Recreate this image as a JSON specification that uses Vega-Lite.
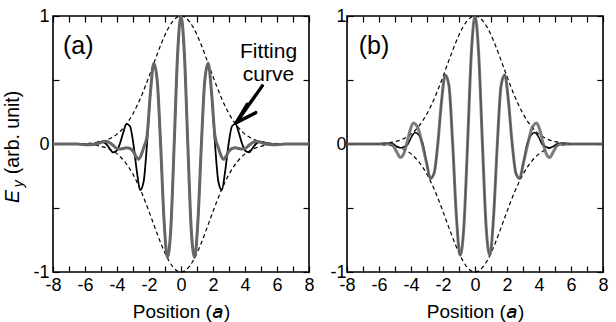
{
  "$schema": "https://vega.github.io/schema/vega-lite/v6.json",
  "padding": {"left": 2, "top": 6, "right": 5, "bottom": 0},
  "spacing": 13,
  "config": {
    "font": "Liberation Sans",
    "view": {"stroke": "#000", "strokeWidth": 1.6},
    "axis": {
      "domain": false, "grid": false, "ticks": true, "tickColor": "#000", "tickSize": -6, "tickWidth": 1.2,
      "labelFont": "Liberation Sans", "labelFontSize": 18, "labelColor": "#000", "labelPadding": 10, "labelFlush": false,
      "titleFont": "Liberation Sans", "titleFontSize": 19, "titleFontWeight": "normal", "titleColor": "#000"
    }
  },
  "datasets": {
    "env": [
      {"x": -8, "up": 0, "lo": 0}, {"x": -7.5, "up": 0.0001, "lo": -0.0001}, {"x": -7, "up": 0.0004, "lo": -0.0004},
      {"x": -6.5, "up": 0.0012, "lo": -0.0012}, {"x": -6, "up": 0.0032, "lo": -0.0032}, {"x": -5.5, "up": 0.0079, "lo": -0.0079},
      {"x": -5, "up": 0.0183, "lo": -0.0183}, {"x": -4.5, "up": 0.0392, "lo": -0.0392}, {"x": -4, "up": 0.0773, "lo": -0.0773},
      {"x": -3.75, "up": 0.1054, "lo": -0.1054}, {"x": -3.5, "up": 0.1409, "lo": -0.1409}, {"x": -3.25, "up": 0.1845, "lo": -0.1845},
      {"x": -3, "up": 0.2369, "lo": -0.2369}, {"x": -2.75, "up": 0.2982, "lo": -0.2982}, {"x": -2.5, "up": 0.3679, "lo": -0.3679},
      {"x": -2.25, "up": 0.4449, "lo": -0.4449}, {"x": -2, "up": 0.5273, "lo": -0.5273}, {"x": -1.75, "up": 0.6126, "lo": -0.6126},
      {"x": -1.5, "up": 0.6977, "lo": -0.6977}, {"x": -1.25, "up": 0.7788, "lo": -0.7788}, {"x": -1, "up": 0.8521, "lo": -0.8521},
      {"x": -0.75, "up": 0.9139, "lo": -0.9139}, {"x": -0.5, "up": 0.9608, "lo": -0.9608}, {"x": -0.25, "up": 0.99, "lo": -0.99},
      {"x": 0, "up": 1, "lo": -1},
      {"x": 0.25, "up": 0.99, "lo": -0.99}, {"x": 0.5, "up": 0.9608, "lo": -0.9608}, {"x": 0.75, "up": 0.9139, "lo": -0.9139},
      {"x": 1, "up": 0.8521, "lo": -0.8521}, {"x": 1.25, "up": 0.7788, "lo": -0.7788}, {"x": 1.5, "up": 0.6977, "lo": -0.6977},
      {"x": 1.75, "up": 0.6126, "lo": -0.6126}, {"x": 2, "up": 0.5273, "lo": -0.5273}, {"x": 2.25, "up": 0.4449, "lo": -0.4449},
      {"x": 2.5, "up": 0.3679, "lo": -0.3679}, {"x": 2.75, "up": 0.2982, "lo": -0.2982}, {"x": 3, "up": 0.2369, "lo": -0.2369},
      {"x": 3.25, "up": 0.1845, "lo": -0.1845}, {"x": 3.5, "up": 0.1409, "lo": -0.1409}, {"x": 3.75, "up": 0.1054, "lo": -0.1054},
      {"x": 4, "up": 0.0773, "lo": -0.0773}, {"x": 4.5, "up": 0.0392, "lo": -0.0392}, {"x": 5, "up": 0.0183, "lo": -0.0183},
      {"x": 5.5, "up": 0.0079, "lo": -0.0079}, {"x": 6, "up": 0.0032, "lo": -0.0032}, {"x": 6.5, "up": 0.0012, "lo": -0.0012},
      {"x": 7, "up": 0.0004, "lo": -0.0004}, {"x": 7.5, "up": 0.0001, "lo": -0.0001}, {"x": 8, "up": 0, "lo": 0}
    ],
    "a_fit": [
      {"x": -8, "y": 0}, {"x": -7, "y": 0}, {"x": -6.5, "y": 0}, {"x": -5.95, "y": -0.004}, {"x": -5.7375, "y": -0.004},
      {"x": -5.525, "y": 0}, {"x": -5.3125, "y": 0.008}, {"x": -5.1, "y": 0.016}, {"x": -4.8875, "y": 0.015}, {"x": -4.675, "y": 0},
      {"x": -4.4625, "y": -0.035}, {"x": -4.25, "y": -0.065}, {"x": -4.0375, "y": -0.055}, {"x": -3.825, "y": 0},
      {"x": -3.6125, "y": 0.088}, {"x": -3.4, "y": 0.157}, {"x": -3.1875, "y": 0.139}, {"x": -2.975, "y": 0},
      {"x": -2.7625, "y": -0.21}, {"x": -2.55, "y": -0.36}, {"x": -2.3375, "y": -0.295}, {"x": -2.125, "y": 0},
      {"x": -1.9125, "y": 0.394}, {"x": -1.7, "y": 0.63}, {"x": -1.4875, "y": 0.496}, {"x": -1.275, "y": 0},
      {"x": -1.0625, "y": -0.59}, {"x": -0.85, "y": -0.885}, {"x": -0.6375, "y": -0.663}, {"x": -0.425, "y": 0},
      {"x": -0.2125, "y": 0.702}, {"x": 0, "y": 1},
      {"x": 0.2125, "y": 0.702}, {"x": 0.425, "y": 0}, {"x": 0.6375, "y": -0.663}, {"x": 0.85, "y": -0.885},
      {"x": 1.0625, "y": -0.59}, {"x": 1.275, "y": 0}, {"x": 1.4875, "y": 0.496}, {"x": 1.7, "y": 0.63},
      {"x": 1.9125, "y": 0.394}, {"x": 2.125, "y": 0}, {"x": 2.3375, "y": -0.295}, {"x": 2.55, "y": -0.36},
      {"x": 2.7625, "y": -0.21}, {"x": 2.975, "y": 0}, {"x": 3.1875, "y": 0.139}, {"x": 3.4, "y": 0.157},
      {"x": 3.6125, "y": 0.088}, {"x": 3.825, "y": 0}, {"x": 4.0375, "y": -0.055}, {"x": 4.25, "y": -0.065},
      {"x": 4.4625, "y": -0.035}, {"x": 4.675, "y": 0}, {"x": 4.8875, "y": 0.015}, {"x": 5.1, "y": 0.016},
      {"x": 5.3125, "y": 0.008}, {"x": 5.525, "y": 0}, {"x": 5.7375, "y": -0.004}, {"x": 5.95, "y": -0.004},
      {"x": 6.5, "y": 0}, {"x": 7, "y": 0}, {"x": 8, "y": 0}
    ],
    "a_sim": [
      {"x": -8, "y": 0}, {"x": -7, "y": 0}, {"x": -6.5, "y": 0}, {"x": -6, "y": -0.006}, {"x": -5.5, "y": -0.004},
      {"x": -5.1, "y": 0.008}, {"x": -4.8875, "y": 0.017}, {"x": -4.675, "y": 0.02}, {"x": -4.4625, "y": 0.01},
      {"x": -4.25, "y": -0.01}, {"x": -4.0375, "y": -0.033}, {"x": -3.825, "y": -0.04}, {"x": -3.6125, "y": -0.035},
      {"x": -3.4, "y": -0.03}, {"x": -3.1875, "y": -0.035}, {"x": -2.975, "y": -0.06}, {"x": -2.8, "y": -0.1},
      {"x": -2.66, "y": -0.12}, {"x": -2.5, "y": -0.09}, {"x": -2.3375, "y": -0.03}, {"x": -2.125, "y": 0.06},
      {"x": -1.9125, "y": 0.4}, {"x": -1.7, "y": 0.63}, {"x": -1.4875, "y": 0.496}, {"x": -1.275, "y": 0},
      {"x": -1.0625, "y": -0.59}, {"x": -0.85, "y": -0.885}, {"x": -0.6375, "y": -0.663}, {"x": -0.425, "y": 0},
      {"x": -0.2125, "y": 0.702}, {"x": 0, "y": 1},
      {"x": 0.2125, "y": 0.702}, {"x": 0.425, "y": 0}, {"x": 0.6375, "y": -0.663}, {"x": 0.85, "y": -0.885},
      {"x": 1.0625, "y": -0.59}, {"x": 1.275, "y": 0}, {"x": 1.4875, "y": 0.496}, {"x": 1.7, "y": 0.63},
      {"x": 1.9125, "y": 0.4}, {"x": 2.125, "y": 0.06}, {"x": 2.3375, "y": -0.03}, {"x": 2.5, "y": -0.09},
      {"x": 2.66, "y": -0.12}, {"x": 2.8, "y": -0.1}, {"x": 2.975, "y": -0.06}, {"x": 3.1875, "y": -0.035},
      {"x": 3.4, "y": -0.03}, {"x": 3.6125, "y": -0.035}, {"x": 3.825, "y": -0.04}, {"x": 4.0375, "y": -0.033},
      {"x": 4.25, "y": -0.01}, {"x": 4.4625, "y": 0.01}, {"x": 4.675, "y": 0.02}, {"x": 4.8875, "y": 0.017},
      {"x": 5.1, "y": 0.008}, {"x": 5.5, "y": -0.004}, {"x": 6, "y": -0.006}, {"x": 6.5, "y": 0}, {"x": 7, "y": 0}, {"x": 8, "y": 0}
    ],
    "b_fit": [
      {"x": -8, "y": 0}, {"x": -7, "y": 0}, {"x": -6, "y": 0}, {"x": -5.58, "y": 0.006}, {"x": -5.35, "y": 0.006},
      {"x": -5.115, "y": 0}, {"x": -4.8825, "y": -0.02}, {"x": -4.65, "y": -0.03}, {"x": -4.4175, "y": -0.022},
      {"x": -4.185, "y": 0}, {"x": -3.9525, "y": 0.06}, {"x": -3.72, "y": 0.09}, {"x": -3.4875, "y": 0.065},
      {"x": -3.255, "y": 0}, {"x": -3.0225, "y": -0.15}, {"x": -2.79, "y": -0.27}, {"x": -2.5575, "y": -0.229},
      {"x": -2.325, "y": 0}, {"x": -2.0925, "y": 0.332}, {"x": -1.86, "y": 0.54}, {"x": -1.6275, "y": 0.455},
      {"x": -1.395, "y": 0}, {"x": -1.1625, "y": -0.565}, {"x": -0.93, "y": -0.87}, {"x": -0.6975, "y": -0.65},
      {"x": -0.465, "y": 0}, {"x": -0.2325, "y": 0.7}, {"x": 0, "y": 1},
      {"x": 0.2325, "y": 0.7}, {"x": 0.465, "y": 0}, {"x": 0.6975, "y": -0.65}, {"x": 0.93, "y": -0.87},
      {"x": 1.1625, "y": -0.565}, {"x": 1.395, "y": 0}, {"x": 1.6275, "y": 0.455}, {"x": 1.86, "y": 0.54},
      {"x": 2.0925, "y": 0.332}, {"x": 2.325, "y": 0}, {"x": 2.5575, "y": -0.229}, {"x": 2.79, "y": -0.27},
      {"x": 3.0225, "y": -0.15}, {"x": 3.255, "y": 0}, {"x": 3.4875, "y": 0.065}, {"x": 3.72, "y": 0.09},
      {"x": 3.9525, "y": 0.06}, {"x": 4.185, "y": 0}, {"x": 4.4175, "y": -0.022}, {"x": 4.65, "y": -0.03},
      {"x": 4.8825, "y": -0.02}, {"x": 5.115, "y": 0}, {"x": 5.35, "y": 0.006}, {"x": 5.58, "y": 0.006},
      {"x": 6, "y": 0}, {"x": 7, "y": 0}, {"x": 8, "y": 0}
    ],
    "b_sim": [
      {"x": -8, "y": 0}, {"x": -7, "y": 0}, {"x": -6, "y": 0}, {"x": -5.4, "y": 0}, {"x": -5.15, "y": -0.01},
      {"x": -4.9, "y": -0.06}, {"x": -4.67, "y": -0.105}, {"x": -4.47, "y": -0.08}, {"x": -4.27, "y": 0},
      {"x": -4.05, "y": 0.11}, {"x": -3.85, "y": 0.165}, {"x": -3.55, "y": 0.12}, {"x": -3.3, "y": 0},
      {"x": -3.0225, "y": -0.15}, {"x": -2.79, "y": -0.27}, {"x": -2.5575, "y": -0.229},
      {"x": -2.325, "y": 0}, {"x": -2.0925, "y": 0.332}, {"x": -1.86, "y": 0.54}, {"x": -1.6275, "y": 0.455},
      {"x": -1.395, "y": 0}, {"x": -1.1625, "y": -0.565}, {"x": -0.93, "y": -0.87}, {"x": -0.6975, "y": -0.65},
      {"x": -0.465, "y": 0}, {"x": -0.2325, "y": 0.7}, {"x": 0, "y": 1},
      {"x": 0.2325, "y": 0.7}, {"x": 0.465, "y": 0}, {"x": 0.6975, "y": -0.65}, {"x": 0.93, "y": -0.87},
      {"x": 1.1625, "y": -0.565}, {"x": 1.395, "y": 0}, {"x": 1.6275, "y": 0.455}, {"x": 1.86, "y": 0.54},
      {"x": 2.0925, "y": 0.332}, {"x": 2.325, "y": 0}, {"x": 2.5575, "y": -0.229}, {"x": 2.79, "y": -0.27},
      {"x": 3.0225, "y": -0.15}, {"x": 3.3, "y": 0}, {"x": 3.55, "y": 0.12}, {"x": 3.85, "y": 0.165},
      {"x": 4.05, "y": 0.11}, {"x": 4.27, "y": 0}, {"x": 4.47, "y": -0.08}, {"x": 4.67, "y": -0.105},
      {"x": 4.9, "y": -0.06}, {"x": 5.15, "y": -0.01}, {"x": 5.4, "y": 0}, {"x": 6, "y": 0}, {"x": 7, "y": 0}, {"x": 8, "y": 0}
    ],
    "arrow": [
      {"x": 5.08, "y": 0.454, "x2": 3.456, "y2": 0.167},
      {"x": 4.144, "y": 0.311, "x2": 3.456, "y2": 0.167},
      {"x": 4.669, "y": 0.245, "x2": 3.456, "y2": 0.167}
    ]
  },
  "hconcat": [
    {
      "width": 256, "height": 256,
      "resolve": {"axis": {"x": "independent", "y": "independent"}},
      "layer": [
        {
          "data": {"name": "env"},
          "mark": {"type": "line", "color": "#000", "strokeWidth": 1.2, "strokeDash": [4, 3], "interpolate": "monotone"},
          "encoding": {
            "x": {"field": "x", "type": "quantitative", "scale": {"domain": [-8, 8], "nice": false, "zero": false},
              "axis": {"orient": "bottom", "values": [-8,-7,-6,-5,-4,-3,-2,-1,0,1,2,3,4,5,6,7,8], "labelExpr": "datum.value % 2 == 0 ? '' + datum.value : ''", "title": "Position (𝘢)", "titlePadding": 8}},
            "y": {"field": "up", "type": "quantitative", "scale": {"domain": [-1, 1], "nice": false, "zero": false},
              "axis": {"orient": "left", "values": [-1,-0.5,0,0.5,1], "labelExpr": "datum.value % 1 == 0 ? '' + datum.value : ''", "title": null, "labelPadding": 10}}
          }
        },
        {
          "data": {"name": "env"},
          "mark": {"type": "line", "color": "#000", "strokeWidth": 1.2, "strokeDash": [4, 3], "interpolate": "monotone"},
          "encoding": {
            "x": {"field": "x", "type": "quantitative", "scale": {"domain": [-8, 8], "nice": false, "zero": false},
              "axis": {"orient": "top", "values": [-8,-7,-6,-5,-4,-3,-2,-1,0,1,2,3,4,5,6,7,8], "labels": false, "title": null}},
            "y": {"field": "lo", "type": "quantitative",
              "axis": {"orient": "right", "values": [-1,-0.5,0,0.5,1], "labels": false, "title": null}}
          }
        },
        {
          "data": {"name": "a_fit"},
          "mark": {"type": "line", "color": "#000", "strokeWidth": 1.8, "interpolate": "monotone"},
          "encoding": {
            "x": {"field": "x", "type": "quantitative", "axis": null},
            "y": {"field": "y", "type": "quantitative", "axis": null}
          }
        },
        {
          "data": {"name": "a_sim"},
          "mark": {"type": "line", "color": "#666666", "strokeWidth": 3, "interpolate": "monotone"},
          "encoding": {
            "x": {"field": "x", "type": "quantitative", "axis": null},
            "y": {"field": "y", "type": "quantitative", "axis": null}
          }
        },
        {
          "data": {"name": "arrow"},
          "mark": {"type": "rule", "color": "#000", "strokeWidth": 3.4, "strokeCap": "round"},
          "encoding": {
            "x": {"field": "x", "type": "quantitative", "axis": null},
            "y": {"field": "y", "type": "quantitative", "axis": null},
            "x2": {"field": "x2"},
            "y2": {"field": "y2"}
          }
        },
        {
          "data": {"values": [{}]},
          "mark": {"type": "text", "text": "(a)", "align": "left", "baseline": "alphabetic", "fontSize": 25, "color": "#000"},
          "encoding": {
            "x": {"datum": -7.375, "type": "quantitative", "axis": null},
            "y": {"datum": 0.705, "type": "quantitative", "axis": null}
          }
        },
        {
          "data": {"values": [{}]},
          "mark": {"type": "text", "text": ["Fitting", "curve"], "lineHeight": 23, "align": "center", "baseline": "alphabetic", "fontSize": 21, "color": "#000"},
          "encoding": {
            "x": {"datum": 5.47, "type": "quantitative", "axis": null},
            "y": {"datum": 0.673, "type": "quantitative", "axis": null}
          }
        },
        {
          "data": {"values": [{}]},
          "mark": {"type": "text", "text": "(arb. unit)", "angle": 270, "align": "center", "baseline": "alphabetic", "fontSize": 19.5, "color": "#000"},
          "encoding": {
            "x": {"datum": -10.125, "type": "quantitative", "axis": null},
            "y": {"datum": 0.09, "type": "quantitative", "axis": null}
          }
        },
        {
          "data": {"values": [{}]},
          "mark": {"type": "text", "text": "E", "angle": 270, "align": "center", "baseline": "alphabetic", "fontSize": 19.5, "fontStyle": "italic", "color": "#000"},
          "encoding": {
            "x": {"datum": -10.125, "type": "quantitative", "axis": null},
            "y": {"datum": -0.41, "type": "quantitative", "axis": null}
          }
        },
        {
          "data": {"values": [{}]},
          "mark": {"type": "text", "text": "y", "angle": 270, "align": "center", "baseline": "alphabetic", "fontSize": 14, "fontStyle": "italic", "color": "#000"},
          "encoding": {
            "x": {"datum": -9.88, "type": "quantitative", "axis": null},
            "y": {"datum": -0.31, "type": "quantitative", "axis": null}
          }
        }
      ]
    },
    {
      "width": 256, "height": 256,
      "resolve": {"axis": {"x": "independent", "y": "independent"}},
      "layer": [
        {
          "data": {"name": "env"},
          "mark": {"type": "line", "color": "#000", "strokeWidth": 1.2, "strokeDash": [4, 3], "interpolate": "monotone"},
          "encoding": {
            "x": {"field": "x", "type": "quantitative", "scale": {"domain": [-8, 8], "nice": false, "zero": false},
              "axis": {"orient": "bottom", "values": [-8,-7,-6,-5,-4,-3,-2,-1,0,1,2,3,4,5,6,7,8], "labelExpr": "datum.value % 2 == 0 ? '' + datum.value : ''", "title": "Position (𝘢)", "titlePadding": 8}},
            "y": {"field": "up", "type": "quantitative", "scale": {"domain": [-1, 1], "nice": false, "zero": false},
              "axis": {"orient": "left", "values": [-1,-0.5,0,0.5,1], "labelExpr": "datum.value % 1 == 0 ? '' + datum.value : ''", "title": null, "labelPadding": 7}}
          }
        },
        {
          "data": {"name": "env"},
          "mark": {"type": "line", "color": "#000", "strokeWidth": 1.2, "strokeDash": [4, 3], "interpolate": "monotone"},
          "encoding": {
            "x": {"field": "x", "type": "quantitative", "scale": {"domain": [-8, 8], "nice": false, "zero": false},
              "axis": {"orient": "top", "values": [-8,-7,-6,-5,-4,-3,-2,-1,0,1,2,3,4,5,6,7,8], "labels": false, "title": null}},
            "y": {"field": "lo", "type": "quantitative",
              "axis": {"orient": "right", "values": [-1,-0.5,0,0.5,1], "labels": false, "title": null}}
          }
        },
        {
          "data": {"name": "b_fit"},
          "mark": {"type": "line", "color": "#000", "strokeWidth": 1.6, "interpolate": "monotone"},
          "encoding": {
            "x": {"field": "x", "type": "quantitative", "axis": null},
            "y": {"field": "y", "type": "quantitative", "axis": null}
          }
        },
        {
          "data": {"name": "b_sim"},
          "mark": {"type": "line", "color": "#666666", "strokeWidth": 3, "opacity": 0.85, "interpolate": "monotone"},
          "encoding": {
            "x": {"field": "x", "type": "quantitative", "axis": null},
            "y": {"field": "y", "type": "quantitative", "axis": null}
          }
        },
        {
          "data": {"values": [{}]},
          "mark": {"type": "text", "text": "(b)", "align": "left", "baseline": "alphabetic", "fontSize": 25, "color": "#000"},
          "encoding": {
            "x": {"datum": -7.27, "type": "quantitative", "axis": null},
            "y": {"datum": 0.705, "type": "quantitative", "axis": null}
          }
        }
      ]
    }
  ]
}
